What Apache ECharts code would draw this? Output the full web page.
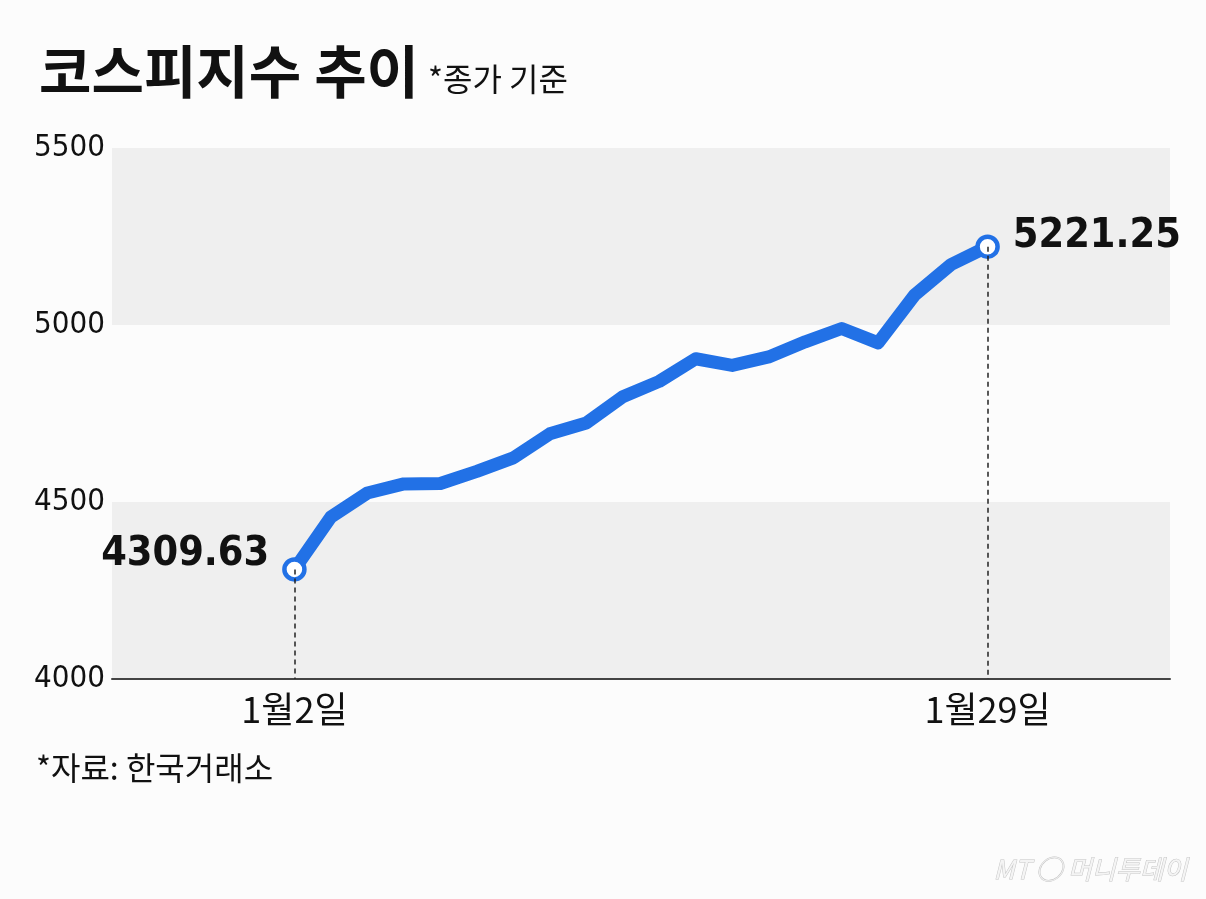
<!DOCTYPE html>
<html>
<head>
<meta charset="utf-8">
<script src="https://cdn.jsdelivr.net/npm/echarts@6/dist/echarts.min.js"></script>
<style>
	html, body { margin: 0; padding: 0; background: #fcfcfc; }
	#kospi { width: 1206px; height: 899px; }
</style>
</head>
<body>
<div id="kospi"></div>
<script>
// 1월 거래일별 코스피 종가
var dates = [ '1월2일', '1월5일', '1월6일', '1월7일', '1월8일', '1월9일',
	'1월12일', '1월13일', '1월14일', '1월15일', '1월16일',
	'1월19일', '1월20일', '1월21일', '1월22일', '1월23일',
	'1월26일', '1월27일', '1월28일', '1월29일' ];
var closes = [ 4309.63, 4457.52, 4525.48, 4551.06, 4552.37, 4586.32,
	4624.79, 4692.64, 4723.10, 4797.55, 4840.74,
	4904.66, 4885.75, 4909.93, 4952.53, 4990.07,
	4949.59, 5084.85, 5170.81, 5221.25 ];
var yTicks = [ 4000, 4500, 5000, 5500 ];

// 좁은 숫자 글꼴: font-stretch 키워드를 fontStyle 자리에 넣는다
var NUM_FONT = "'DejaVu Sans'";
var KR_FONT = "'Noto Sans CJK KR', sans-serif";
var BLUE = '#2271e6';

var first = 0, last = closes.length - 1;
var points = closes.map(function (v, i) {
	var item = { value: [ i, v ] };
	if (i === first || i === last) {
		item.label = {
			show : true,
			formatter : v.toFixed(2),
			position : i === first ? 'left' : 'right',
			distance : 13,
			offset : i === first ? [ 0, -15 ] : [ 0, -10 ],
			fontFamily : NUM_FONT,
			fontStyle : 'condensed',
			fontWeight : 'bold',
			fontSize : 41,
			color : '#111'
		};
	}
	return item;
});

var myChart = echarts.init(document.getElementById('kospi'));
var option = {
	backgroundColor : '#fcfcfc',
	animation : false,
	title : {
		left : 34,
		top : 38,
		text : '{a|코스피지수 추이} {b|*종가 기준}',
		textStyle : {
			rich : {
				a : { fontFamily : KR_FONT, fontWeight : 'bold', fontSize : 57, color : '#111' },
				b : { fontFamily : KR_FONT, fontWeight : 'normal', fontSize : 32, color : '#111', padding : [ 14, 0, 0, 4 ] }
			}
		}
	},
	graphic : [ {
		type : 'text',
		left : 36,
		top : 752,
		style : { text : '*자료: 한국거래소', font : "32px 'Noto Sans CJK KR'", fill : '#111' }
	}, {
		type : 'text',
		right : 18,
		top : 856,
		style : {
			text : 'MT ◯ 머니투데이',
			font : "italic 26px 'Noto Sans CJK KR'",
			fill : '#f4f4f4',
			stroke : '#c4c4c4',
			lineWidth : 1
		}
	} ],
	grid : {
		left : 112,
		right : 36,
		top : 148,
		bottom : 220
	},
	xAxis : {
		type : 'value',
		min : -5,
		max : 24,
		interval : 1,
		splitLine : { show : false },
		axisTick : { show : false },
		axisLine : { show : true, onZero : false, lineStyle : { color : '#444', width : 2 } },
		axisLabel : {
			margin : 12,
			fontFamily : KR_FONT,
			fontSize : 36,
			color : '#111',
			showMinLabel : true,
			showMaxLabel : true,
			formatter : function (v) {
				return (v === first || v === last) ? dates[v] : '';
			}
		}
	},
	yAxis : {
		type : 'value',
		min : yTicks[0],
		max : yTicks[yTicks.length - 1],
		interval : yTicks[1] - yTicks[0],
		axisLine : { show : false },
		axisTick : { show : false },
		splitLine : { show : false },
		splitArea : {
			show : true,
			areaStyle : { color : [ '#efefef', '#fcfcfc' ] }
		},
		axisLabel : {
			margin : 7,
			fontFamily : NUM_FONT,
			fontStyle : 'condensed',
			fontSize : 31,
			color : '#111',
			formatter : function (v) { return String(v); }
		}
	},
	series : [ {
		type : 'line',
		data : points,
		symbol : 'circle',
		symbolSize : function (val, p) {
			return (p.dataIndex === first || p.dataIndex === last) ? 20 : 0;
		},
		showAllSymbol : true,
		lineStyle : { color : BLUE, width : 13, join : 'round', cap : 'round' },
		itemStyle : { color : '#fff', borderColor : BLUE, borderWidth : 4.5 },
		z : 3,
		markLine : {
			silent : true,
			symbol : 'none',
			label : { show : false },
			lineStyle : { color : '#222', type : [ 5, 4 ], width : 1.5 },
			data : [ first, last ].map(function (i) {
				return [ { coord : [ i, closes[i] ] }, { coord : [ i, yTicks[0] ] } ];
			})
		}
	} ]
};
myChart.setOption(option);
</script>
</body>
</html>
